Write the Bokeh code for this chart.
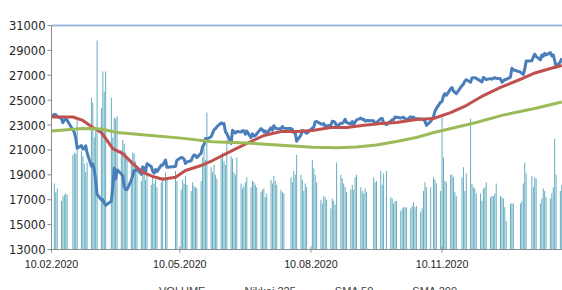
import math
import pandas as pd
from bokeh.plotting import figure
from bokeh.core.properties import value
from bokeh.models import Range1d, Legend, LegendItem, ColumnDataSource
from bokeh.embed import file_html
from bokeh.resources import INLINE

# ---- trading days (month, day numbers) ----
MONTH_DAYS = [
    ("2020-02", [10, 12, 13, 14, 17, 18, 19, 20, 21, 25, 26, 27, 28]),
    ("2020-03", [2, 3, 4, 5, 6, 9, 10, 11, 12, 13, 16, 17, 18, 19, 23, 24, 25, 26, 27, 30, 31]),
    ("2020-04", [1, 2, 3, 6, 7, 8, 9, 10, 13, 14, 15, 16, 17, 20, 21, 22, 23, 24, 27, 28, 30]),
    ("2020-05", [1, 7, 8, 11, 12, 13, 14, 15, 18, 19, 20, 21, 22, 25, 26, 27, 28, 29]),
    ("2020-06", [1, 2, 3, 4, 5, 8, 9, 10, 11, 12, 15, 16, 17, 18, 19, 22, 23, 24, 25, 26, 29, 30]),
    ("2020-07", [1, 2, 3, 6, 7, 8, 9, 10, 13, 14, 15, 16, 17, 20, 21, 22, 27, 28, 29, 30, 31]),
    ("2020-08", [3, 4, 5, 6, 7, 11, 12, 13, 14, 17, 18, 19, 20, 21, 24, 25, 26, 27, 28, 31]),
    ("2020-09", [1, 2, 3, 4, 7, 8, 9, 10, 11, 14, 15, 16, 17, 18, 23, 24, 25, 28, 29, 30]),
    ("2020-10", [2, 5, 6, 7, 8, 9, 12, 13, 14, 15, 16, 19, 20, 21, 22, 23, 26, 27, 28, 29, 30]),
    ("2020-11", [2, 4, 5, 6, 9, 10, 11, 12, 13, 16, 17, 18, 19, 20, 24, 25, 26, 27, 30]),
    ("2020-12", [1, 2, 3, 4, 7, 8, 9, 10, 11, 14, 15, 16, 17, 18, 21, 22, 23, 24, 25, 28, 29, 30]),
    ("2021-01", [4, 5, 6, 7, 8, 12, 13, 14, 15, 18, 19, 20, 21, 22, 25, 26, 27, 28, 29]),
    ("2021-02", [1, 2]),
]

NIKKEI = [
    23686, 23861, 23828, 23688, 23523, 23194, 23401, 23479, 23387, 22605, 22426, 21948, 21143,
    21344, 21083, 21100, 21329, 20750, 19699, 19867, 19416, 18560, 17431, 17002, 17012, 16727, 16553,
    16888, 18092, 19547, 18665, 19389, 19085, 18917,
    18065, 17819, 17820, 18576, 18950, 19353, 19346, 19499, 19043, 19639, 19550, 19290, 19897, 19669,
    19281, 19138, 19429, 19262, 19783, 19771, 20194,
    19619, 19675, 20179, 20391, 20366, 20267, 19915, 20037, 20134, 20433, 20595, 20552, 20388, 20742,
    21271, 21419, 21916, 21878,
    22062, 22326, 22614, 22696, 22864, 23178, 23091, 23125, 22473, 22305, 21531, 22582, 22456, 22355,
    22479, 22437, 22549, 22534, 22260, 22512, 21995, 22288,
    22122, 22146, 22306, 22714, 22615, 22439, 22529, 22291, 22785, 22587, 22946, 22770, 22696, 22717,
    22884, 22752, 22716, 22657, 22397, 22339, 21710,
    22195, 22574, 22515, 22418, 22330, 22750, 22844, 23250, 23289, 23097, 23051, 23111, 22881, 22920,
    22986, 23297, 23291, 23209, 22883, 23140,
    23138, 23247, 23466, 23205, 23090, 23274, 23033, 23235, 23406, 23559, 23455, 23476, 23319, 23360,
    23346, 23088, 23205, 23512, 23539, 23185,
    23030, 23312, 23434, 23423, 23647, 23620, 23559, 23602, 23627, 23507, 23411, 23671, 23567, 23639,
    23474, 23517, 23494, 23486, 23419, 23332, 22977,
    23295, 23695, 24105, 24325, 24840, 24906, 25350, 25521, 25386, 25907, 26015, 25728, 25634, 25527,
    26166, 26297, 26537, 26645, 26434,
    26788, 26801, 26809, 26751, 26547, 26467, 26818, 26756, 26653, 26732, 26688, 26757, 26807, 26763,
    26714, 26436, 26525, 26668, 26657, 26854, 27568, 27444,
    27258, 27159, 27056, 27490, 28139, 28164, 28457, 28698, 28519, 28242, 28633, 28523, 28757, 28631,
    28822, 28546, 28635, 28197, 27663,
    28091, 28362,
]

VOLUME = [
    17500, 18300, 17600, 17900, 16900, 17250, 17400, 17500, 17400, 20600, 20800, 20700, 23600,
    20900, 20500, 19900, 19200, 20000, 25200, 24800, 22000, 22500, 29800, 24400, 27300, 25700, 27300,
    25200, 22000, 23600, 23500, 23700, 21000, 21800,
    21500, 20800, 20500, 20200, 20800, 20700, 20100, 19500, 18500, 19600, 19200, 18600, 19300, 18200,
    18900, 18300, 18600, 18000, 18400, 18800, 19200,
    18800, 19300, 18500, 17800, 18600, 18300, 18900, 18200, 17700, 18400, 18100, 18000, 17900, 18500,
    20400, 21200, 20200, 24000,
    19600, 19200, 19800, 19000, 18700, 20300, 20800, 20100, 19800, 21800, 20500, 20300, 19200, 19000,
    20400, 18300, 17900, 18100, 18400, 18800, 18000, 18500,
    18400, 18200, 18000, 17600, 17800, 17900, 17200, 17500, 18600, 18300, 18900, 18500, 18200, 17800,
    17600, 17500, 18800, 18400, 19300, 19000, 20600,
    19000, 18600, 17700, 18300, 18000, 20200, 19500, 19000, 18400, 17000, 16700, 17300, 17200, 17000,
    16300, 17100, 16900, 16600, 20000, 19000,
    18700, 18300, 18000, 17600, 17800, 18200, 17800, 18800, 19000, 18000, 17700, 17500, 17900, 17600,
    18800, 18400, 18500, 19300, 18200, 19100,
    19300, 17200, 17100, 16700, 16900, 16900, 16100, 16300, 16400, 16400, 16400, 16300, 16500, 16800,
    16400, 16500, 16000, 16300, 17700, 18400, 18000,
    18000, 18800, 18600, 18300, 17700, 23600, 20400, 18500, 18400, 19000, 19000, 18800, 17600, 17300,
    18800, 19600, 17700, 19100, 23500,
    18300, 18000, 17900, 17500, 17500, 16900, 17900, 18000, 18400, 17200, 17300, 17300, 17500, 18300,
    17300, 17200, 17100, 16400, 15300, 16700, 16700, 16700,
    16700, 16900, 18300, 20000, 19100, 18900, 18000, 18800, 18700, 16700, 17100, 17900, 17700, 17200,
    17100, 17500, 18000, 21900, 19000,
    17700, 18200,
]

SMA50_DATES = ["2020-02-10", "2020-02-25", "2020-03-03", "2020-03-10", "2020-03-16", "2020-03-19",
               "2020-03-24", "2020-03-31", "2020-04-07", "2020-04-14", "2020-04-21", "2020-04-28",
               "2020-05-07", "2020-05-14", "2020-05-25", "2020-06-02", "2020-06-15", "2020-06-26",
               "2020-07-08", "2020-07-20", "2020-07-31", "2020-08-11", "2020-08-24", "2020-09-04",
               "2020-09-15", "2020-09-28", "2020-10-09", "2020-10-23", "2020-11-04", "2020-11-16",
               "2020-11-27", "2020-12-09", "2020-12-21", "2021-01-04", "2021-01-13", "2021-01-25",
               "2021-02-02"]
SMA50 = [23650, 23650, 23370, 22800, 22400, 21920, 21100, 20700, 19900, 19190, 18870, 18650,
         18800, 19350, 19750, 20150, 20900, 21520, 22160, 22480, 22480, 22560, 22800, 22800,
         22960, 23120, 23200, 23440, 23530, 24000, 24570, 25370, 26020, 26680, 27140, 27540,
         27780]

SMA200_DATES = ["2020-02-10", "2020-03-03", "2020-03-16", "2020-03-27", "2020-04-20", "2020-05-11",
                "2020-06-02", "2020-06-26", "2020-07-20", "2020-08-11", "2020-08-28", "2020-09-11",
                "2020-09-25", "2020-10-09", "2020-10-23", "2020-11-05", "2020-11-20", "2020-12-04",
                "2020-12-22", "2021-01-14", "2021-02-02"]
SMA200 = [22520, 22720, 22680, 22400, 22160, 21950, 21650, 21560, 21380, 21220, 21180, 21240,
          21400, 21680, 22000, 22420, 22820, 23200, 23780, 24330, 24850]

YTICKS = [13000, 15000, 17000, 19000, 21000, 23000, 25000, 27000, 29000, 31000]
XTICKS = ["2020-02-10", "2020-05-10", "2020-08-10", "2020-11-10"]
SERIES_NAMES = ["VOLUME", "Nikkei 225", "SMA 50", "SMA 200"]

# ---- layout numbers (pixels) ----
FIG_W, FIG_H = 562, 290
AXIS_X, TOP_Y, BOTTOM_Y = 51, 25, 249      # pixel positions of the y axis, 31000 and 13000
Y_MIN, Y_MAX = YTICKS[0], YTICKS[-1]
upp = (Y_MAX - Y_MIN) / (BOTTOM_Y - TOP_Y)          # value units per pixel
y_start = Y_MIN - (FIG_H - BOTTOM_Y) * upp
y_end = Y_MAX + TOP_Y * upp

x_first = pd.Timestamp(XTICKS[0])
x_end = pd.Timestamp("2021-02-02 12:00")
ms_pp = (x_end - x_first).value / 1e6 / (FIG_W - AXIS_X)   # ms per pixel
x_start = x_first - pd.Timedelta(milliseconds=AXIS_X * ms_pp)

# ---- build ----
dates = [pd.Timestamp(f"{m}-{d:02d}") for m, days in MONTH_DAYS for d in days]
assert len(dates) == len(NIKKEI) == len(VOLUME), (len(dates), len(NIKKEI), len(VOLUME))
src = ColumnDataSource(dict(date=dates, nikkei=NIKKEI, vol=VOLUME))

p = figure(width=FIG_W, height=FIG_H, output_backend="svg", toolbar_location=None,
           x_axis_type="datetime",
           x_range=Range1d(x_start, x_end), y_range=Range1d(y_start, y_end),
           min_border=0)
p.outline_line_color = None
p.grid.visible = False
p.axis.visible = False
p.background_fill_color = "white"
p.border_fill_color = "white"

AXIS_COL = "#8c8c8c"
LABEL_COL = "#262626"
DAY_MS = 86400000

p.vbar(x="date", top="vol", bottom=Y_MIN, width=0.7 * DAY_MS, source=src,
       fill_color="#65adc0", line_color=None)
p.line(x="date", y="nikkei", source=src, line_color="#4a7ebb", line_width=3, line_join="round")
p.line(x=pd.to_datetime(SMA50_DATES), y=SMA50, line_color="#c0504d", line_width=3, line_join="round")
p.line(x=pd.to_datetime(SMA200_DATES), y=SMA200, line_color="#9bbb59", line_width=3, line_join="round")

# frame lines: top border (light blue), x axis, y axis
p.segment(x0=[x_first], y0=[Y_MAX], x1=[x_end], y1=[Y_MAX], line_color="#9bb7d9", line_width=2)
p.segment(x0=[x_first, x_first], y0=[Y_MIN, Y_MIN], x1=[x_end, x_first], y1=[Y_MIN, Y_MAX],
          line_color=AXIS_COL, line_width=1)

# y ticks + labels
tick_x0 = x_first - pd.Timedelta(milliseconds=4 * ms_pp)
p.segment(x0=[tick_x0] * len(YTICKS), y0=YTICKS, x1=[x_first] * len(YTICKS), y1=YTICKS,
          line_color=AXIS_COL, line_width=1)
p.text(x=[x_first] * len(YTICKS), y=YTICKS, text=[str(v) for v in YTICKS],
       text_align="right", text_baseline="middle", x_offset=-6,
       text_font=value("DejaVu Sans"), text_font_size="11.5px", text_color=LABEL_COL)

# x ticks + labels
xt = [pd.Timestamp(t) for t in XTICKS]
p.scatter(x=xt, y=[Y_MIN] * len(xt), marker="dash", angle=math.pi / 2, size=6,
          line_color=AXIS_COL, line_width=1)
p.text(x=xt, y=[Y_MIN] * len(xt), text=[t.strftime("%d.%m.%Y") for t in xt],
       text_align="center", text_baseline="top", y_offset=10,
       text_font=value("Liberation Sans"), text_font_size="10.7px", text_color=LABEL_COL)

# legend (dummy renderers styled like the reference's legend keys)
r_vol = p.vbar(x=[], top=[], bottom=Y_MIN, width=DAY_MS, fill_color="#2e8aa0", line_color=None)
r_nk = p.line(x=[], y=[], line_color="#8fb0d8", line_width=1.5)
r_s50 = p.line(x=[], y=[], line_color="#e08f8c", line_width=1.5)
r_s200 = p.line(x=[], y=[], line_color="#c3d89b", line_width=1.5)
legend = Legend(items=[LegendItem(label=SERIES_NAMES[0], renderers=[r_vol]),
                       LegendItem(label=SERIES_NAMES[1], renderers=[r_nk]),
                       LegendItem(label=SERIES_NAMES[2], renderers=[r_s50]),
                       LegendItem(label=SERIES_NAMES[3], renderers=[r_s200])],
                orientation="horizontal", location=(134, -7),
                glyph_width=24, glyph_height=8, label_standoff=1, spacing=14,
                padding=0, margin=0, label_height=10,
                label_text_font="Liberation Sans", label_text_font_size="11px",
                label_text_color="#404040",
                border_line_color=None, background_fill_alpha=0)
p.add_layout(legend, "center")

open("out.html", "w").write(file_html(p, INLINE))
